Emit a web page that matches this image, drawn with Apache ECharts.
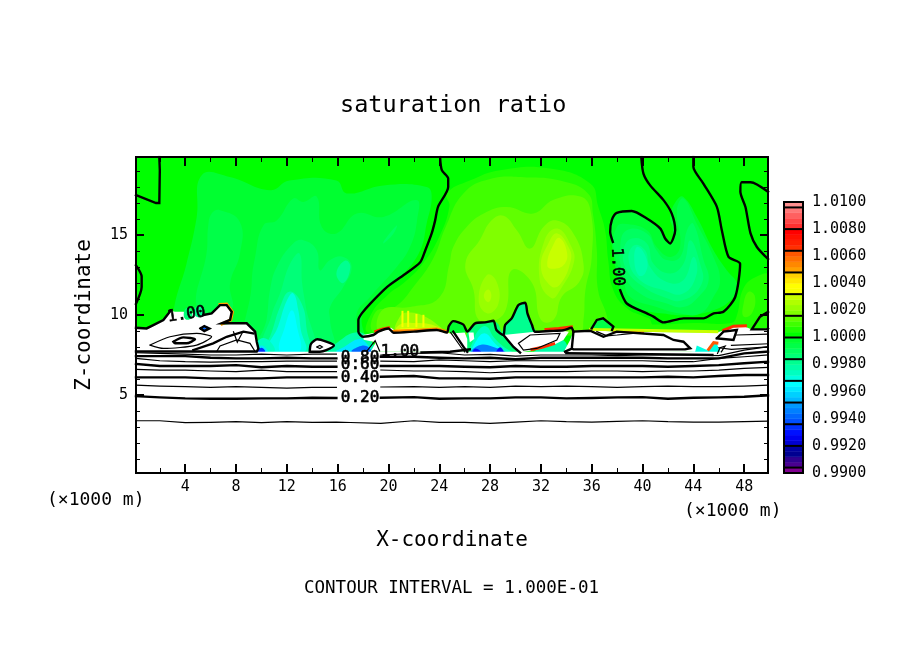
<!DOCTYPE html>
<html><head><meta charset="utf-8">
<style>html,body{margin:0;padding:0;background:#fff}#c{width:904px;height:654px}</style>
<script src="https://cdn.jsdelivr.net/npm/echarts@6/dist/echarts.min.js"></script>
</head><body><div id="c"></div>
<script>
// ---------- colour scale (50 levels, 0.99 .. 1.01, 0.0004 each) ----------
const scaleMin = 0.99, scaleStep = 0.0004;
const palette = ['#800090','#4a0090','#300090','#000090','#0000a0','#0000d0','#0000f0','#0010ff','#0030ff','#0050ff',
 '#0068ff','#0080ff','#0098ff','#00b8ff','#00d0ff','#00e8ff','#00ffff','#00ffe0','#00ffc0','#00ffa8',
 '#00ff90','#00ff78','#00ff60','#00ff48','#00ff30','#00ff00','#20ff00','#40ff00','#60ff00','#80ff00',
 '#98ff00','#b0ff00','#c8ff00','#f8ff00','#ffff00','#ffe800','#ffd000','#ffa000','#ff8800','#ff7000',
 '#ff5800','#ff3000','#ff2000','#ff1000','#ff0000','#ff3030','#ff4848','#ff6060','#ff7878','#ff9090'];
const barTicks = [0.9904,0.992,0.9936,0.9952,0.9968,0.9984,1.0,1.0016,1.0032,1.0048,1.0064,1.008,1.0096];
const xMajorTicks = [4,8,12,16,20,24,28,32,36,40,44,48];
const xMinorTicks = [2,6,10,14,18,22,26,30,34,38,42,46];
const zMajorTicks = [5,10,15];
const zMinorTicks = [1,2,3,4,6,7,8,9,11,12,13,14,16,17,18,19];

// ---------- field regions: [x km, z km] rings ----------
const fieldBase = [[0.125,0.125],[49.875,0.125],[49.875,19.875],[0.125,19.875]];
const leftA = [[5.3,18.74],[7.5,18.63],[10.7,17.8],[12.2,18.4],[15.9,18.4],[16.7,17.6],[19.6,18.1],[23,18],[23.4,17.4],[23,15.7],[22.5,14.05],[21.2,12.6],[18,10.1],[18,7.7],[3,7.7],[3.1,10.3],[4.1,13.2],[4.9,16.1]];
const leftB1 = [[6.08,16.34],[6.74,16.55],[8.31,15.8],[8.31,13.84],[7.53,11.97],[7.6,10.3],[5,10.3],[5.7,14],[5.8,15.5]];
const leftB2 = [[9.23,11.97],[9.5,13.63],[10.15,15.6],[11.2,15.9],[12.5,17.28],[13.3,17.07],[14.35,17.4],[14.75,15.5],[15.9,15.1],[17.5,16.34],[19.6,16.13],[22.2,17.18],[22.25,15.9],[21.7,14.26],[20.65,13],[18.55,11.13],[17.5,10.1],[17.3,7.7],[9.2,7.7]];
const leftC = [[11.2,13],[12.5,14.47],[13.3,14.67],[14.35,14.05],[14.6,12.8],[15.4,13.43],[16.45,13.63],[17.1,13],[16.45,11.76],[15.4,10.5],[15.4,9.7],[15.5,7.7],[9.8,7.7],[10.4,9.7],[10.67,11.55]];
const leftCsliver = [[19.7,14.7],[20.65,15.6],[20.4,15.1],[19.6,14.47]];
const leftD = [[11.46,11.34],[12.25,13.2],[13,13.84],[13.2,12],[13.5,10.5],[14,7.7],[10.2,7.7],[10.8,10]];
const leftDpatch = [[15.9,12.6],[16.6,13.4],[17,13],[16.45,12]];
const columnE = [[10,7.7],[10.67,8.64],[11.46,10.5],[12.2,11.46],[13.17,10.7],[13.57,9.06],[13.7,7.7]];
const columnF = [[10.5,7.7],[11.3,9.27],[12,10.9],[12.5,11.35],[12.9,10.3],[13.1,9.06],[13.4,7.7]];
const columnG = [[11.46,7.7],[11.85,9.27],[12.4,10.3],[12.8,9.27],[13,7.7]];
const lowTeal1 = [[9.3,7.7],[9.9,8.5],[10.6,8.4],[11,7.7]];
const lowCyan1 = [[9.6,7.7],[10,8.1],[10.5,7.7]];
const lowBlue1 = [[9.7,7.7],[10,7.95],[10.3,7.7]];
const lowTeal2 = [[15.2,7.7],[16,8.3],[17.4,8.9],[18.4,8.6],[18.8,7.7]];
const lowCyan2 = [[15.9,7.7],[16.5,8],[17.7,8.5],[18.3,8.2],[18.6,7.7]];
const lowBlue2 = [[17.1,7.7],[17.6,8],[18.3,8.05],[18.6,7.7]];
const rightG1 = [[24.6,17.6],[26.4,18.4],[28.8,19.05],[32.7,19.15],[35.9,18.2],[36.5,16.8],[37.05,15.3],[37.3,13.4],[37.7,11.55],[38.8,10.4],[40.1,9.9],[40.6,9.7],[40.6,8.9],[18.5,8.9],[18.6,10],[20,11.3],[21.2,12],[22.7,13.2],[24,14.9],[24.8,16.8]];
const rightG2 = [[25.9,17.6],[28,18.5],[30.9,18.6],[33.5,18.4],[35.7,17.6],[36.1,16.3],[36.4,14.05],[36.5,11.55],[37.2,9.9],[37.2,8.9],[19,8.9],[19,10.2],[20.5,10.5],[22,11.8],[23.5,13.5],[24.5,15.5]];
const rightG3 = [[25.1,14.25],[26.15,15.5],[27.5,16.35],[29.3,16.75],[31.4,16.35],[33,17.2],[35.1,17.4],[35.9,16.55],[36,13.6],[35.5,11.55],[35.35,9.7],[35,8.9],[19.5,8.9],[19.5,10.3],[21.7,10.5],[24,11.1],[24.8,13.2]];
const rightG4 = [[26.05,13.2],[27.2,14.7],[28.1,15.9],[29.05,16.2],[30.1,15.3],[31.15,14.15],[32.2,15.5],[33.25,15.9],[34.55,15.1],[35.35,13.2],[35,12.05],[33.65,11.15],[33,9.7],[32,9.7],[31.3,12],[29.7,12.8],[29.3,10.5],[28.5,9.7],[27.1,9.7],[26.7,11.55]];
const rightG5a = [[31.9,12.2],[32.3,14.7],[33.3,15.4],[34.35,14.35],[34.6,13.3],[33.5,11.55],[32.85,11.05]];
const rightG5b = [[27.1,10.9],[27.75,12.5],[28.5,12.1],[28.65,10.7],[27.8,10.1]];
const rightG6a = [[32,13],[32.6,14.5],[33.3,15.1],[34.2,14.2],[34.35,13.4],[33.5,11.9],[32.8,11.8]];
const rightG6b = [[27.5,11.2],[27.85,11.6],[28.1,11.2],[27.85,10.8]];
const rightG7 = [[32.5,13.1],[33.1,14.6],[33.5,14.8],[34,14.1],[33.95,13.3],[33.2,12.9]];
const edgeRight1 = [[37,8.9],[38,9.5],[41,9.4],[44,9.5],[47,9.5],[47.4,9.9],[48,11.75],[49.25,12.5],[49.875,12.5],[49.875,8.9]];
const edgeRight2 = [[47.95,10.7],[48.35,11.45],[48.85,11.15],[48.6,10.1],[47.95,9.9]];
const heat1 = [[20.4,9],[20.65,10],[21.2,10.4],[22.5,10.35],[24,9.5],[24.6,8.95]];
const heat2 = [[20.65,8.95],[20.9,9.9],[21.5,10.15],[22.6,10],[24,9.3],[24.3,8.95]];
const heat3 = [[20.6,8.95],[20.9,9.4],[22,9.5],[23.6,9.35],[24.3,8.95]];
const heat4 = [[20.5,8.95],[21,9.15],[23.5,9.1],[24.4,8.95]];
const insideR1 = [[37.5,15],[37.58,15.93],[37.97,16.38],[39.15,16.5],[40.34,16.03],[41.4,15.4],[41.78,14.78],[42.17,14.47],[42.4,15.3],[42.17,16.13],[42.7,17.18],[43.22,17.38],[44.27,16.13],[45.58,14.05],[46.63,12.8],[47.42,11.97],[47.16,11.13],[45.58,10.3],[43.22,9.99],[41.65,10.09],[40.07,10.3],[38.76,10.72],[38.24,11.55],[37.66,14]];
const insideR2 = [[37.97,15.5],[38.5,15.7],[40.34,15.3],[41.1,14.26],[42.17,13.63],[42.96,14.26],[42.7,16.55],[43.22,17.28],[44.27,15.7],[45.58,13.63],[46.1,12.17],[45.58,11.13],[44.53,10.09],[42.96,10.09],[41.1,10.5],[39.02,11.13],[38.5,12.17],[37.7,14.26]];
const insideR3 = [[38.24,14.26],[38.76,15.3],[40.34,15.1],[41.1,14.05],[41.9,13.43],[42.96,13.63],[43.5,15.3],[44,15.7],[44.8,13.43],[45.2,12.17],[44.4,11.13],[43.2,10.5],[41.9,10.72],[39.8,11.34],[38.5,12.6]];
const insideR4 = [[38.5,14.05],[39.15,14.78],[40.34,14.47],[40.86,13.2],[42.17,12.6],[43.22,13.2],[43.75,14.67],[44.53,13.2],[44.67,11.97],[43.22,10.93],[41.65,11.13],[40.07,11.76],[38.76,12.8]];
const insideR5 = [[38.9,13.43],[39.34,14.36],[40.2,14.05],[40.6,13],[41.9,12.07],[43.2,12.17],[44,13.63],[44.27,12.6],[43.2,11.34],[41.65,11.55],[39.8,12.17]];
const insideR6 = [[39.34,13.63],[39.63,14.26],[40.34,13.43],[40.2,12.6],[39.68,12.49]];
const gapT1 = [[26.82,9.37],[28.4,9.58],[29.05,8.75],[30.36,7.65],[26.42,7.65],[26.16,8.75]];
const gapT2 = [[26.56,7.65],[26.69,8.44],[27.21,9.16],[27.74,9.27],[28.26,8.64],[29.05,8.02],[29.7,7.65]];
const gapT3 = [[26.69,7.65],[26.95,8.44],[27.6,8.85],[28.26,8.33],[28.9,7.65]];
const gapT4 = [[26.56,7.65],[27.21,8.12],[28.26,8],[29.2,7.65]];
const gapT5a = [[26.65,7.65],[26.85,7.9],[27.3,7.65]];
const gapT5b = [[28.5,7.65],[28.8,7.98],[29.05,7.65]];
const pocketA = [[29.18,9.37],[29.7,9.79],[30.23,10.62],[30.76,10.77],[30.94,10.1],[31.3,9.37],[31.54,8.95],[29.05,8.75]];
const pocketB = [[36,9.16],[36.4,9.69],[36.9,9.79],[37.7,9.27],[37.6,9.06]];
const pocketC = [[24.85,9.5],[25.1,9.62],[25.9,9.37],[26.2,8.96],[24.85,8.9]];
const pocketD = [[31.5,7.7],[32.1,7.95],[33,8.15],[33.8,8.4],[34,7.7]];
const pocketE = [[43.9,7.7],[44.27,8.2],[45.2,7.9],[45.6,8.3],[46,8.3],[46.2,7.7]];
const holeLabel1 = [[3.9,10.2],[4.16,10.46],[4.48,10.3],[4.48,9.79],[4,9.75]];
const holeLabel2 = [[4.69,10.3],[5.03,10.58],[5.37,10.4],[5.3,9.93],[4.85,9.9]];
// regions below the scale: drawn white
const belowCloud = [[0.125,0.125],[49.875,0.125],[49.875,7.7],[0.125,7.7]];
const cloudLeft = [[0.125,9.2],[0.18,9.27],[0.96,9.16],[1.49,9.37],[2.28,9.69],[2.85,10.27],[3.2,10.2],[3.85,10.2],[5.43,10],[6.08,10.1],[6.74,10.62],[7.26,10.62],[7.66,10.2],[7.53,9.69],[6.87,9.48],[6.74,9.37],[8.05,9.48],[8.84,9.48],[9.5,8.96],[9.63,8.33],[9.76,7.9],[9.63,7.7],[0.125,7.7]];
const cloudSmall = [[13.8,7.7],[13.9,8.2],[14.4,8.48],[15.1,8.33],[15.7,8.1],[15.1,7.8],[14.6,7.7]];
const cloudMid = [[18.6,7.7],[19,8.3],[18.05,8.45],[18,8.75],[19,8.9],[19.5,9],[20.2,9.2],[20.65,8.95],[22,8.95],[24,9.05],[24.85,8.85],[26,8.9],[26.2,8.5],[26.2,7.7]];
const cloudNub = [[26.3,8.9],[26.7,8.9],[26.75,8.5],[26.4,8.3]];
const cloudC4 = [[29.05,8.75],[31.54,8.95],[33.77,9],[34.2,8.95],[33.77,8.44],[33,8.12],[32.07,7.9],[31.3,7.8],[30.36,7.65],[29.84,8],[29.44,8.44]];
const cloudRight = [[33.77,7.65],[34.3,8.44],[34.56,9],[35.9,9.06],[37.97,8.96],[45.85,8.9],[46.5,9.06],[47.16,9.23],[48.08,9.27],[48.6,9.1],[49.78,9.16],[49.875,9.16],[49.875,7.6],[46.1,7.7],[45.85,8.2],[45.6,8.23],[45.2,7.77],[44.27,8.1],[44.14,7.7]];
const smallBlueHole = [[5.2,9.16],[5.5,9.31],[5.9,9.16],[5.5,9]];

const noData = 0.98;
const fieldRegions = [
 [1.0002,fieldBase],[0.9998,leftA],[0.9994,leftB1],[0.9994,leftB2],[0.9990,leftC],[0.9990,leftCsliver],[0.9986,leftD],[0.9982,leftDpatch],
 [0.9978,columnE],[0.9970,columnF],[0.9966,columnG],
 [1.0006,rightG1],[1.0010,rightG2],[1.0014,rightG3],[1.0018,rightG4],[1.0022,rightG5a],[1.0022,rightG5b],[1.0026,rightG6a],[1.0026,rightG6b],[1.0030,rightG7],
 [1.0006,edgeRight1],[1.0010,edgeRight2],[1.0014,heat1],[1.0022,heat2],[1.0030,heat3],[1.0038,heat4],
 [0.9998,insideR1],[0.9994,insideR2],[0.9990,insideR3],[0.9986,insideR4],[0.9982,insideR5],[0.9978,insideR6],
 [0.9986,gapT1],[0.9974,gapT2],[0.9966,gapT3],[0.9946,gapT4],[0.9930,gapT5a],[0.9930,gapT5b],
 [0.9982,pocketA],[0.9994,pocketB],[0.9998,pocketC],[0.9974,lowTeal1],[0.9962,lowCyan1],[0.9934,lowBlue1],
 [0.9978,lowTeal2],[0.9962,lowCyan2],[0.9942,lowBlue2],[0.9978,pocketD],[0.9970,pocketE],
 [noData,belowCloud],[noData,cloudLeft],[noData,cloudSmall],[noData,cloudMid],[noData,cloudNub],[noData,cloudC4],[noData,cloudRight],
 [0.9986,holeLabel1],[0.9982,holeLabel2],[0.9942,smallBlueHole]
];

// ---------- horizontal contours below the clouds ----------
const lineX = [0.125,2,4,6,8,10,12,14,15.9,17,19.4,22,24,26,28,30,32,34,36,38,40,42,44,46,48,49.875];
const c010 = [3.39,3.39,3.27,3.29,3.33,3.27,3.33,3.29,3.31,3.28,3.23,3.39,3.29,3.29,3.23,3.31,3.39,3.33,3.31,3.35,3.39,3.33,3.31,3.31,3.33,3.37];
const c020 = [4.93,4.85,4.79,4.77,4.77,4.79,4.79,4.83,4.81,null,4.83,4.87,4.77,4.79,4.79,4.85,4.85,4.79,4.81,4.85,4.87,4.77,4.83,4.85,4.89,4.98];
const c030 = [5.62,5.56,5.52,5.48,5.52,5.48,5.43,5.48,5.48,null,5.5,5.52,5.48,5.52,5.48,5.56,5.52,5.56,5.52,5.48,5.52,5.56,5.52,5.52,5.56,5.62];
const c040 = [6.1,6.1,6.1,6.04,6.04,6.04,6.1,6.1,6.1,null,6.14,6.19,6.04,6.04,6.02,6.1,6.1,6.1,6.1,6.1,6.1,6.14,6.1,6.19,6.25,6.25];
const c050 = [6.6,6.56,6.56,6.5,6.46,6.56,6.46,6.46,6.46,null,6.56,6.5,6.5,6.46,6.39,6.46,6.46,6.46,6.5,6.5,6.46,6.5,6.5,6.56,6.66,6.73];
const c060 = [6.94,6.81,6.81,6.81,6.87,6.73,6.81,6.77,6.77,null,6.81,6.81,6.81,6.77,6.73,6.81,6.77,6.77,6.81,6.81,6.81,6.77,6.81,6.87,6.98,7.08];
const c070 = [7.29,7.14,7.08,7.06,7.08,7.08,7.12,7.12,7.12,null,7.12,7.08,7.19,7.14,7.08,7.14,7.14,7.14,7.14,7.14,7.14,7.08,7.08,7.29,7.39,7.5];
const c080 = [7.43,7.43,7.43,7.33,7.29,7.29,7.33,7.29,7.29,null,7.39,7.39,7.33,7.29,7.33,7.23,7.33,7.33,7.33,7.33,7.33,7.29,7.29,7.29,7.6,7.71];
const c090 = [7.64,7.6,7.56,7.5,7.5,7.56,7.5,7.56,7.56,null,7.5,7.6,7.64,7.5,7.54,7.43,7.5,7.5,7.5,7.46,7.5,7.5,7.5,7.46,7.81,8.02];

// ---------- other contour paths ----------
const lineC1 = [[1.96,19.875],[2,19.05],[1.96,17],[1.7,17],[0.125,17.5]];
const lineC1b = [[0.125,13.1],[0.57,12.4],[0.57,11.75],[0.125,10.7]];
const lineC3 = [[49.875,17.7],[48.5,18.3],[47.8,18.3],[47.7,17.7],[48.1,16.75],[48.5,15.1],[49,14.25],[49.875,13.5]];
const lineC4 = [[49.875,10.2],[49.25,9.9],[48.6,9.1],[49.78,9.1],[49.875,9.16]];
const lineC2a = [[39.9,19.875],[40.07,18.84],[40.6,18.1],[41.65,17.18],[42.3,16.34],[42.57,15.3],[42.17,14.47],[41.78,14.78],[41.4,15.4],[40.34,16.03],[39.15,16.5],[37.97,16.38],[37.58,15.93],[37.45,15.2],[37.66,14.57]];
const lineC2b = [[38.24,11.55],[38.76,10.72],[40.34,10.1],[40.86,9.9],[41.65,9.54],[43.22,9.79],[44.8,9.79],[45.6,10.1],[46.37,10.2],[47.3,11.14],[47.68,13.2],[46.77,13.63],[46.24,15.3],[45.85,16.76],[44.8,18.2],[44,19.26],[44,19.875]];
const lineC5 = [[24.06,19.875],[24.2,19.05],[24.7,18.53],[24.7,18],[23.9,16.76],[23.67,15.9],[23.4,15.1],[22.9,14.05],[22.5,13.3],[21.2,12.5],[19.9,11.76],[18.55,10.7],[17.9,10.1],[17.63,9.69],[17.63,8.95],[18,8.64],[18.81,8.75],[19.2,8.96],[20,9.16],[20.4,8.89],[22,8.96],[23.8,9.06],[24.6,8.9],[24.75,9.3],[25.1,9.62],[25.9,9.4],[26.2,8.96],[26.82,9.48],[27.6,9.54],[28.26,9.64],[28.5,9.06],[29.05,8.75],[29.18,9.37],[29.7,9.79],[30.23,10.62],[30.76,10.77],[30.94,10.1],[31.3,9.37],[31.54,8.95],[32.7,9],[33.77,9.05],[34.4,9.2],[34.56,8.96]];
const lineCloudLeftA = [[0.125,9.2],[0.18,9.27],[0.96,9.16],[1.49,9.37],[2.28,9.69],[2.85,10.27]];
const lineCloudLeftB = [[5.43,10],[6.08,10.1],[6.74,10.62],[7.26,10.62],[7.66,10.2],[7.53,9.69],[6.87,9.48],[6.74,9.37],[8.05,9.48],[8.84,9.48],[9.5,8.96],[9.63,8.33],[9.76,7.9],[9.63,7.72],[0.125,7.72]];
const lineEllOuter = [[1.23,8.12],[2.8,8.64],[4.9,8.85],[6.08,8.64],[4.9,8.12],[2.28,7.91],[1.23,8.12]];
const lineEllInner = [[3.07,8.33],[3.85,8.6],[4.77,8.48],[4.1,8.23],[3.2,8.23],[3.07,8.33]];
const lineRidge = [[4.64,7.81],[6.2,8.23],[7.26,8.64],[8.58,8.96],[9.36,8.85]];
const lineLoopLeft = [[6.48,7.72],[6.74,8.06],[8.05,8.44],[9.1,8.23],[9.5,7.72]];
const lineBlue = [[5.2,9.16],[5.5,9.31],[5.9,9.16],[5.5,9],[5.2,9.16]];
const lineDiag1 = [[7.8,8.95],[8.1,8.3],[8.5,8.9]];
const lineBlob = [[13.8,7.7],[13.9,8.2],[14.4,8.48],[15.1,8.33],[15.7,8.1],[15.1,7.8],[14.6,7.7],[13.8,7.7]];
const lineBlobCore = [[14.35,8],[14.6,8.1],[14.8,8],[14.6,7.9],[14.35,8]];
const lineTri = [[18.3,7.75],[18.95,8.4],[19.3,7.75]];
const lineLabelSide = [[22.6,7.66],[24.85,7.7],[26.4,7.85]];
const lineArc1 = [[25.1,8.96],[26,7.9],[26.2,7.7]];
const lineArc2 = [[24.9,8.9],[25.7,8],[26,7.7]];
const lineC4Low = [[29.05,8.75],[29.84,8],[30.36,7.65]];
const lineC4Inner = [[30.23,8.23],[31.15,8.75],[33.5,8.85],[33.25,8.44],[31.67,7.91],[30.62,7.81],[30.23,8.23]];
const lineRightLoop = [[33.9,7.71],[34.43,7.9],[34.56,8.96],[35.87,9.02],[36.92,8.64],[37.97,8.96],[41.65,8.75],[42.43,8.44],[43.22,8.33],[43.75,7.92],[43.35,7.85],[34.56,7.85],[34.43,7.9]];
const lineRightInner = [[36.4,8.96],[37.2,8.7],[38,8.75],[39.8,8.9]];
const linePocketB = [[36,9.16],[36.4,9.69],[36.9,9.79],[37.7,9.27],[37.6,9.06]];
const linePocketRight = [[45.85,8.54],[46.37,8.96],[47.42,9.06],[47.16,8.44],[45.85,8.54]];
const lineRightA = [[47.4,8.75],[49.875,8.8]];
const lineRightB = [[47,8.1],[49.875,8.2]];
const lineRightC = [[46,7.95],[47,7.85],[49.875,8]];
const lineRightD = [[45.9,7.6],[46.1,7.95],[46.5,8.05],[46.2,7.7]];
const lineBottomThick = [[34,7.62],[45.5,7.5]];

const thickLines = [c020,c040,c060,c080].map(z=>lineX.map((x,i)=>[x,z[i]]));
const thinLines = [c010,c030,c050,c070,c090].map(z=>lineX.map((x,i)=>[x,z[i]]));
const smoothPaths = [lineC1b,lineC3,lineC2a,lineC2b,lineC5,lineEllOuter,lineEllInner,lineBlob];
const thickPaths = [lineC1,lineC1b,lineC3,lineC4,lineC2a,lineC2b,lineC5,lineCloudLeftA,lineCloudLeftB,lineEllInner,lineRidge,lineBlue,lineBlob,lineLabelSide,lineArc1,lineC4Low,lineRightLoop,linePocketB,linePocketRight,lineBottomThick];
const thinPaths = [lineEllOuter,lineLoopLeft,lineDiag1,lineBlobCore,lineTri,lineArc2,lineC4Inner,lineRightInner,lineRightA,lineRightB,lineRightC,lineRightD];

// ---------- coloured fringes along cloud edges ----------
const fringeLeft = [[6.74,10.66],[7.26,10.68],[7.72,10.2],[7.58,9.69],[6.9,9.44]];
const fringeMid = [[20.4,8.98],[22,9.03],[23.8,9.12],[24.6,8.96]];
const fringeMidLow = [[19,8.98],[19.5,9.12],[20,9.2]];
const fringeC4a = [[32.4,9.1],[33.4,9.15],[34.4,9.25]];
const fringeC4b = [[31.3,7.85],[32.1,7.98],[33,8.2]];
const fringeRightA = [[37.8,9.02],[40,8.98]];
const fringeRightB = [[46.4,9.05],[47.16,9.3],[48.1,9.33]];
const fringeRightC = [[45.2,7.85],[45.6,8.27],[45.85,8.25]];
const fringeEdge = [[35.9,9.1],[45.85,8.95]];
const fringes = [[1.0050,fringeLeft],[1.0054,fringeMid],[1.0066,fringeMidLow],[1.0066,fringeC4a],[1.0066,fringeC4b],[1.0066,fringeRightA],[1.0066,fringeRightB],[1.0062,fringeRightC],[1.0030,fringeEdge]];
const stripe1 = [[21.1,9.3],[21.1,10.2]], stripe2 = [[21.55,9.3],[21.55,10.2]], stripe3 = [[22.2,9.3],[22.2,10]], stripe4 = [[22.75,9.3],[22.75,9.95]];
const stripes = [stripe1,stripe2,stripe3,stripe4];

// ---------- labels ----------
const contourLabels = [
 ['0.20',17.76,4.81,0],['0.40',17.76,6.1,0],['0.60',17.76,6.87,0],['0.80',17.76,7.31,0],
 ['1.00',20.9,7.69,0],['1.00',4.1,10.02,8],['1.00',38,13,-87]
];
const fieldColor = v => (v<scaleMin) ? '#ffffff' : palette[Math.floor((v-scaleMin)/scaleStep)];
const mono = '"DejaVu Sans Mono"';
const barLevels = palette.map((c,i)=>i);
const plainLine = (data,w,color,z) => ({type:'line',data,xAxisIndex:0,yAxisIndex:0,showSymbol:false,symbol:'none',
  smooth:smoothPaths.includes(data)?0.25:false,
  lineStyle:{width:w,color:color||'#000',cap:'square',join:'miter'},itemStyle:{color:color||'#000'},silent:true,connectNulls:false,z:z||5});
const isFlat = r => r===fieldBase||r===belowCloud;

const axisBase = {type:'value',gridIndex:0,z:7,splitLine:{show:false},axisLine:{onZero:false,lineStyle:{color:'#000',width:2}}};
const xBase = {...axisBase,min:0.125,max:49.875};
const zBase = {...axisBase,min:0.125,max:19.875};
const tickStyle = (vals,len,w,labels) => ({
  axisTick:{inside:true,length:len,customValues:vals,lineStyle:{color:'#000',width:w}},
  axisLabel:labels?{customValues:vals,margin:labels,fontFamily:mono,fontSize:15,color:'#000',formatter:v=>String(v)}:{show:false}});

const option = {
  animation:false, backgroundColor:'#fff',
  title:{text:'saturation ratio',left:335,top:89,textStyle:{fontFamily:mono,fontWeight:'normal',fontSize:23.5,color:'#000'}},
  grid:[{left:136,top:157,width:632,height:316},{left:784,top:202,width:19,height:271}],
  xAxis:[
   {...xBase,position:'bottom',name:'X-coordinate',nameLocation:'middle',nameGap:57,nameTextStyle:{fontFamily:mono,fontSize:21,color:'#000'},...tickStyle(xMajorTicks,9,2,7)},
   {...xBase,position:'top',...tickStyle(xMajorTicks,9,2)},
   {type:'value',gridIndex:1,min:0,max:1,show:false},
   {...xBase,position:'bottom',...tickStyle(xMinorTicks,5,1)},
   {...xBase,position:'top',...tickStyle(xMinorTicks,5,1)}
  ],
  yAxis:[
   {...zBase,position:'left',name:'Z-coordinate',nameLocation:'middle',nameGap:41,nameRotate:90,nameTextStyle:{fontFamily:mono,fontSize:21,color:'#000'},...tickStyle(zMajorTicks,8,2,8)},
   {...zBase,position:'right',...tickStyle(zMajorTicks,8,2)},
   {type:'value',gridIndex:1,min:0.99,max:1.01,interval:0.002,position:'right',
    axisLine:{show:false},axisTick:{show:false},splitLine:{show:false},
    axisLabel:{margin:9,padding:[3,0,0,0],fontFamily:mono,fontSize:15,color:'#000',formatter:v=>v.toFixed(4)}},
   {...zBase,position:'left',...tickStyle(zMinorTicks,4,1)},
   {...zBase,position:'right',...tickStyle(zMinorTicks,4,1)}
  ],
  graphic:[
   {type:'text',left:47,top:491,style:{text:'(×1000 m)',font:'18px '+mono,fill:'#000'}},
   {type:'text',left:684,top:502,style:{text:'(×1000 m)',font:'18px '+mono,fill:'#000'}},
   {type:'text',left:304,top:579,style:{text:'CONTOUR INTERVAL = 1.000E-01',font:'17.5px '+mono,fill:'#000'}}
  ],
  series:[
   {type:'custom',xAxisIndex:0,yAxisIndex:0,silent:true,z:1,clip:true,
    data:fieldRegions.map((r,i)=>[i,r[0]]),encode:{x:[],y:[]},
    renderItem:(p,api)=>{const r=fieldRegions[api.value(0)];
      const white=r[0]<scaleMin;
      return {type:'polygon',shape:{points:r[1].map(q=>api.coord(q)),smooth:(isFlat(r[1])||white)?0:0.45},style:{fill:fieldColor(r[0]),stroke:null}};}},
   ...fringes.map(f=>plainLine(f[1],3,fieldColor(f[0]),3)),
   ...stripes.map(s=>plainLine(s,2,fieldColor(1.0034),2)),
   ...thinLines.map(d=>plainLine(d,1.2)),
   ...thickLines.map(d=>plainLine(d,2.4)),
   ...thinPaths.map(d=>plainLine(d,1.2)),
   ...thickPaths.map(d=>plainLine(d,2.4)),
   {type:'scatter',xAxisIndex:0,yAxisIndex:0,symbolSize:1,silent:true,z:8,itemStyle:{color:'rgba(0,0,0,0)',opacity:1},
    data:contourLabels.map(l=>({name:l[0],value:[l[1],l[2]],label:{rotate:l[3]}})),
    label:{show:true,position:'inside',formatter:'{b}',fontFamily:mono,fontSize:16,color:'#000',opacity:1,textBorderColor:'#000',textBorderWidth:0.6},labelLayout:{hideOverlap:false}},
   {type:'custom',xAxisIndex:2,yAxisIndex:2,silent:true,z:1,data:barLevels.map(i=>[i]),encode:{x:[],y:[]},
    renderItem:(p,api)=>{const i=api.value(0);const a=api.coord([0,scaleMin+i*scaleStep]),b=api.coord([1,scaleMin+(i+1)*scaleStep]);
      return {type:'rect',shape:{x:a[0],y:b[1],width:b[0]-a[0],height:a[1]-b[1]},style:{fill:palette[i],stroke:palette[i],lineWidth:0.5}};}},
   {type:'custom',xAxisIndex:2,yAxisIndex:2,silent:true,z:2,data:barTicks.map(v=>[v]),encode:{x:[],y:[]},
    renderItem:(p,api)=>{const v=api.value(0);const a=api.coord([0,v]),b=api.coord([1,v]);
      return {type:'line',shape:{x1:a[0],y1:a[1],x2:b[0],y2:b[1]},style:{stroke:'#000',lineWidth:2}};}},
   {type:'custom',xAxisIndex:2,yAxisIndex:2,silent:true,z:3,data:[[0]],encode:{x:[],y:[]},
    renderItem:(p,api)=>{const a=api.coord([0,scaleMin]),b=api.coord([1,1.01]);
      return {type:'rect',shape:{x:a[0],y:b[1],width:b[0]-a[0],height:a[1]-b[1]},style:{fill:'none',stroke:'#000',lineWidth:2}};}}
  ]
};
echarts.init(document.getElementById('c'),null,{renderer:'canvas'}).setOption(option);
</script></body></html>
